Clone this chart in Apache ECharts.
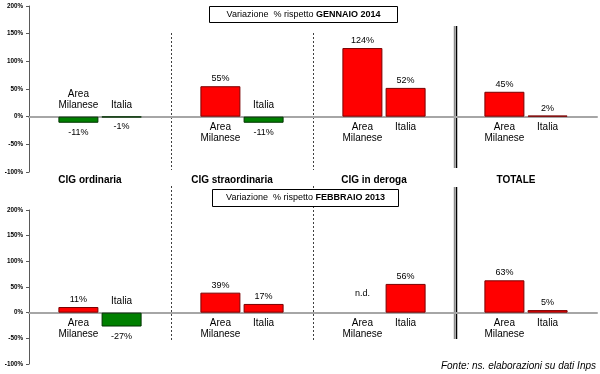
<!DOCTYPE html>
<html><head><meta charset="utf-8">
<script src="https://cdn.jsdelivr.net/npm/echarts@6/dist/echarts.min.js"></script>
<style>html,body{margin:0;padding:0;background:#fff}#c{width:600px;height:374px}</style>
</head><body><div id="c"></div>
<script>
const categories = ['CIG ordinaria', 'CIG straordinaria', 'CIG in deroga', 'TOTALE'];
const barNames = ['Area\nMilanese', 'Italia'];
const janArea = [-11, 55, 124, 45];
const janItalia = [-1, -11, 52, 2];
const febArea = [11, 39, null, 63];
const febItalia = [-27, 17, 56, 5];
const missingLabel = 'n.d.';
const yMin = -100, yMax = 200, yStep = 50;
const titleTop = ['Variazione  % rispetto ', 'GENNAIO 2014'];
const titleBottom = ['Variazione  % rispetto ', 'FEBBRAIO 2013'];
const sourceText = 'Fonte: ns. elaborazioni su dati Inps';

const FONT = 'Arial, "Liberation Sans", sans-serif';
const RED = '#ff0000', RED_B = '#7a0000', GREEN = '#008000', GREEN_B = '#003300';

function barSeries(name, values, panel) {
  const marks = values.map((v, i) => ({
    name: name, coord: [categories[i], 0], value: 0,
    label: { position: (v == null || v >= 0) ? 'bottom' : 'top', distance: 5 }
  }));
  values.forEach((v, i) => {
    if (v == null) marks.push({ name: missingLabel, coord: [categories[i], 0], value: 0,
      label: { position: 'top', distance: 13, fontSize: 9 } });
  });
  return {
    type: 'bar', name: name.replace('\n', ' '),
    xAxisIndex: panel === 0 ? 0 : 2, yAxisIndex: panel,
    barWidth: 40, barGap: '8%',
    data: values.map(v => v == null ? { value: null } : {
      value: v,
      itemStyle: { color: v >= 0 ? RED : GREEN, borderColor: v >= 0 ? RED_B : GREEN_B, borderWidth: 1 },
      label: { show: true, position: v >= 0 ? 'top' : 'bottom', distance: v >= 0 ? 3 : 5,
        formatter: v + '%', fontSize: 9, color: '#000', fontFamily: FONT }
    }),
    markPoint: {
      symbol: 'rect', symbolSize: 1, silent: true, animation: false,
      itemStyle: { color: 'rgba(0,0,0,0)' },
      label: { show: true, formatter: '{b}', color: '#000', fontSize: 10, lineHeight: 11, fontFamily: FONT },
      data: marks
    }
  };
}

const yAxisBase = {
  type: 'value', min: yMin, max: yMax, interval: yStep,
  axisLine: { show: true, lineStyle: { color: '#595959', width: 1 } },
  axisTick: { show: true, length: 3, lineStyle: { color: '#595959' } },
  splitLine: { show: false },
  axisLabel: { formatter: '{value}%', fontSize: 6.3, fontWeight: 'bold', color: '#000', margin: 6, fontFamily: FONT }
};
const xMain = {
  type: 'category', data: categories,
  axisLine: { onZero: true, lineStyle: { color: '#a6a6a6', width: 2 } },
  axisTick: { show: false }, axisLabel: { show: false }, splitLine: { show: false }
};

const chart = echarts.init(document.getElementById('c'));
chart.setOption({
  animation: false,
  grid: [
    { left: 29, right: 3, top: 6, bottom: 202 },
    { left: 29, right: 3, top: 210, bottom: 10 }
  ],
  xAxis: [
    Object.assign({ gridIndex: 0 }, xMain),
    { gridIndex: 0, type: 'category', data: categories, position: 'bottom',
      axisLine: { show: false, onZero: false }, axisTick: { show: false },
      axisLabel: { show: true, interval: 0, margin: 3, fontSize: 10, fontWeight: 'bold', color: '#000',
        fontFamily: FONT, padding: [0, 20, 0, 0] } },
    Object.assign({ gridIndex: 1 }, xMain)
  ],
  yAxis: [
    Object.assign({ gridIndex: 0 }, yAxisBase),
    Object.assign({ gridIndex: 1 }, yAxisBase)
  ],
  series: [
    barSeries(barNames[0], janArea, 0),
    barSeries(barNames[1], janItalia, 0),
    barSeries(barNames[0], febArea, 1),
    barSeries(barNames[1], febItalia, 1)
  ]
});

// separators between categories, derived from the axis scale
const c0 = chart.convertToPixel({ xAxisIndex: 0 }, categories[0]);
const c1 = chart.convertToPixel({ xAxisIndex: 0 }, categories[1]);
const step = c1 - c0;
const bx = k => c0 + step * (k - 0.5);
const graphics = [];
const dashed = { stroke: '#404040', lineWidth: 1, lineDash: [2, 2] };
[1, 2].forEach(k => {
  const x = Math.round(bx(k)) + 0.5;
  graphics.push({ type: 'line', shape: { x1: x, y1: 33, x2: x, y2: 170 }, style: dashed, silent: true });
  graphics.push({ type: 'line', shape: { x1: x, y1: 186, x2: x, y2: 340 }, style: dashed, silent: true });
});
const xd = Math.round(bx(3));
[[26, 168], [187, 339]].forEach(([a, b]) => {
  graphics.push({ type: 'line', shape: { x1: xd - 0.5, y1: a, x2: xd - 0.5, y2: b }, style: { stroke: '#8c8c8c', lineWidth: 1.5 }, silent: true });
  graphics.push({ type: 'line', shape: { x1: xd + 1.5, y1: a, x2: xd + 1.5, y2: b }, style: { stroke: '#000', lineWidth: 1.5 }, silent: true });
});
function titleBox(x, y, w, h, parts) {
  graphics.push({ type: 'rect', shape: { x: x, y: y, width: w, height: h },
    style: { fill: '#fff', stroke: '#000', lineWidth: 1 }, silent: true, z: 10 });
  graphics.push({ type: 'text', x: x + w / 2, y: y + h / 2, z: 11, silent: true,
    style: { text: '{n|' + parts[0] + '}{b|' + parts[1] + '}', align: 'center', verticalAlign: 'middle',
      rich: { n: { fontSize: 9, fontFamily: FONT, fill: '#000' }, b: { fontSize: 9, fontFamily: FONT, fontWeight: 'bold', fill: '#000' } } } });
}
titleBox(209.5, 6.5, 188, 16, titleTop);
titleBox(212.5, 189.5, 186, 17, titleBottom);
graphics.push({ type: 'text', right: 4, top: 361, silent: true,
  style: { text: sourceText, fontSize: 10, fontStyle: 'italic', fontFamily: FONT, fill: '#000' } });
chart.setOption({ graphic: graphics });
</script></body></html>
